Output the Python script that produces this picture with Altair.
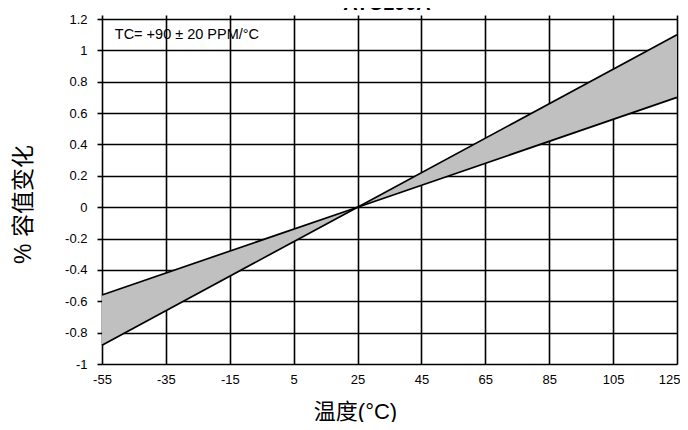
import altair as alt
import pandas as pd

# ---- data ----
temp = [-55, 25, 125]
tc_high = [-0.88, 0.0, 1.10]   # +110 PPM/°C
tc_low = [-0.56, 0.0, 0.70]    # +70 PPM/°C
x_ticks = [-55, -35, -15, 5, 25, 45, 65, 85, 105, 125]
y_ticks = [1.2, 1, 0.8, 0.6, 0.4, 0.2, 0, -0.2, -0.4, -0.6, -0.8, -1]
title_text = ["ATC100A"]
note_text = ["TC= +90 ± 20 PPM/°C"]
note_x = [-51]
note_y = [1.1]
x_title = "温度(°C)"
y_title = "%  容值变化"

df = pd.DataFrame({"t": temp, "hi": tc_high, "lo": tc_low})
note_df = pd.DataFrame({"t": note_x, "v": note_y, "txt": note_text})
title_df = pd.DataFrame({"txt": title_text})

font = "Liberation Sans Narrow, Liberation Sans, Arial"
cjk = "Liberation Sans, Noto Sans CJK SC"

xscale = alt.Scale(domain=[-55, 125], nice=False, zero=False)
yscale = alt.Scale(domain=[-1, 1.2], nice=False, zero=False)

x_bottom = alt.Axis(
    values=x_ticks, grid=True, gridColor="black", gridWidth=1.6, gridOpacity=1,
    ticks=False, domain=False, labelPadding=9, labelFontSize=13, labelFont=font,
    labelColor="black", labelFlush=False, labelExpr="'' + datum.value",
    labelAlign={"condition": {"test": "datum.value == 125", "value": "right"}, "value": "center"},
    labelOffset={"condition": {"test": "datum.value == 125", "value": 3}, "value": 0},
    title=x_title, titleFont=cjk, titleFontSize=22, titleFontWeight="normal",
    titleColor="black", titleX=253, titleY=54, titleBaseline="alphabetic",
    titleAlign="center",
)
x_top = alt.Axis(
    orient="top", values=x_ticks, labels=False, ticks=True, tickSize=4,
    tickColor="black", tickWidth=1.6, domain=False, grid=False, title=None,
)
y_axis = alt.Axis(
    values=y_ticks, grid=True, gridColor="black", gridWidth=1.6, gridOpacity=1,
    ticks=True, tickSize=5, tickColor="black", tickWidth=1.6, domain=False,
    labelPadding=10, labelFontSize=13, labelFont=font, labelColor="black",
    labelExpr="'' + datum.value", labelFlush=False,
    title=y_title, titleFont=cjk, titleFontSize=23, titleFontWeight="normal",
    titleColor="black", titleAngle=270, titleX=-79, titleY=185,
    titleAlign="center", titleBaseline="middle",
)

base = alt.Chart(df)

band = base.mark_area(color="#c0c0c0", opacity=1).encode(
    x=alt.X("t:Q", scale=xscale, axis=x_bottom),
    y=alt.Y("hi:Q", scale=yscale, axis=y_axis),
    y2="lo:Q",
)
line_hi = base.mark_line(color="black", strokeWidth=1.7).encode(
    x=alt.X("t:Q", scale=xscale, axis=x_top),
    y=alt.Y("hi:Q", scale=yscale, axis=None),
)
line_lo = base.mark_line(color="black", strokeWidth=1.7).encode(
    x=alt.X("t:Q", scale=xscale, axis=None),
    y=alt.Y("lo:Q", scale=yscale, axis=None),
)
note = alt.Chart(note_df).mark_text(
    align="left", baseline="middle", font=font, fontSize=14.5, color="black"
).encode(
    x=alt.X("t:Q", scale=xscale, axis=None),
    y=alt.Y("v:Q", scale=yscale, axis=None),
    text="txt:N",
)
title_mark = alt.Chart(title_df).mark_text(
    align="center", baseline="alphabetic", font="Liberation Sans",
    fontSize=20, fontWeight="bold", color="black",
).encode(
    x=alt.value(285), y=alt.value(-9), text="txt:N",
)

chart = (
    alt.layer(band, line_hi, line_lo, note, title_mark)
    .resolve_axis(x="independent", y="independent")
    .properties(
        width=575, height=345,
        autosize=alt.AutoSizeParams(type="none"),
        padding={"left": 94, "top": 11, "right": 3, "bottom": 58},
    )
    .configure_view(stroke="black", strokeWidth=2)
    .configure(background="white")
)

chart.save("out.html", embed_options={"renderer": "svg", "actions": False})
